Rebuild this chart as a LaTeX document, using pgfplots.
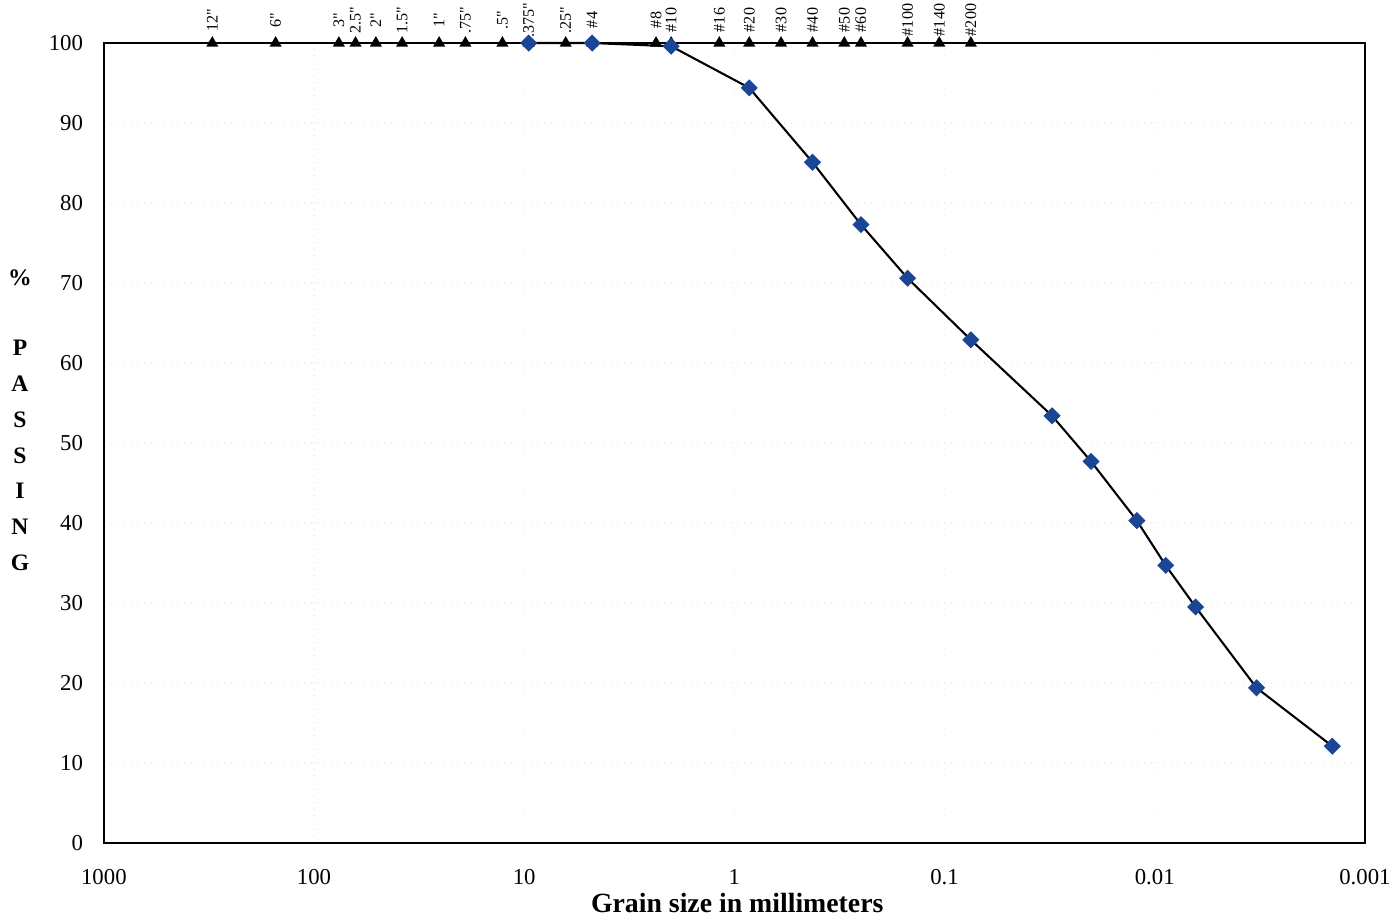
\documentclass[border=0pt]{standalone}
\usepackage{fontspec}
\setmainfont{Liberation Serif}
\newfontfamily\sievefont{Liberation Serif}
\usepackage{pgfplots}
\usepackage{pgfplotstable}
\pgfplotsset{compat=1.18}
\definecolor{diablue}{HTML}{1B4597}

\pgfplotstableread{
x y lab
304.8 100 12"
152.4 100 6"
76.2 100 3"
63.5 100 2.5"
50.8 100 2"
38.1 100 1.5"
25.4 100 1"
19.05 100 .75"
12.7 100 .5"
9.525 100 .375"
6.35 100 .25"
4.75 100 \#4
2.36 100 \#8
2.0 100 \#10
1.18 100 \#16
0.85 100 \#20
0.6 100 \#30
0.425 100 \#40
0.3 100 \#50
0.25 100 \#60
0.15 100 \#100
0.106 100 \#140
0.075 100 \#200
}\sieves

\pgfplotstableread{
x y
9.525 100
4.75 100
2.0 99.6
0.85 94.4
0.425 85.1
0.25 77.3
0.15 70.6
0.075 62.9
0.0308 53.4
0.0201 47.7
0.01217 40.3
0.00887 34.7
0.00639 29.5
0.00328 19.4
0.00143 12.1
}\grading

\begin{document}
\begin{tikzpicture}
\useasboundingbox (-37.4pt,-27.4pt) rectangle (465.9pt,303.5pt);
\begin{axis}[
  scale only axis,
  width=454pt, height=288pt,
  xmode=log, x dir=reverse,
  xmin=0.001, xmax=1000,
  ymin=0, ymax=100,
  xtick={0.001,0.01,0.1,1,10,100,1000},
  xticklabels={0.001,0.01,0.1,1,10,100,1000},
  ytick={0,10,...,100},
  major tick length=0pt, minor tick length=0pt,
  minor xtick={},
  axis line style={black, line width=0.8pt},
  grid=major,
  major grid style={gray!15, dotted, line width=0.4pt},
  /pgf/number format/assume math mode=true,
  tick label style={font=\fontsize{8.2}{9}\selectfont},
  xticklabel style={yshift=-6pt},
  yticklabel style={xshift=-4pt},
  clip=false,
]
\addplot[black, line width=0.9pt, mark=triangle*, mark size=1.6pt,
  mark options={fill=black},
  nodes near coords, point meta=explicit symbolic,
  every node near coord/.style={font=\sievefont\fontsize{5.8}{6}\selectfont, yshift=8.3pt, rotate=90, anchor=center, inner sep=0pt, black}]
  table[x=x, y=y, meta=lab] {\sieves};
\addplot[black, line width=0.75pt, mark=square*, mark size=1.8pt,
  mark options={fill=diablue, draw=diablue, rotate=45}]
  table[x=x, y=y] {\grading};
\end{axis}
\node[font=\bfseries\fontsize{10}{12}\selectfont, anchor=base] at (228pt,-25pt) {Grain size in millimeters};
\node[font=\bfseries\fontsize{8.5}{10}\selectfont] at (-30.2pt,203.4pt) {\%};
\node[font=\bfseries\fontsize{8.5}{12.9}\selectfont, align=center] at (-30.2pt,139.5pt) {P\\A\\S\\S\\I\\N\\G};
\end{tikzpicture}
\end{document}
